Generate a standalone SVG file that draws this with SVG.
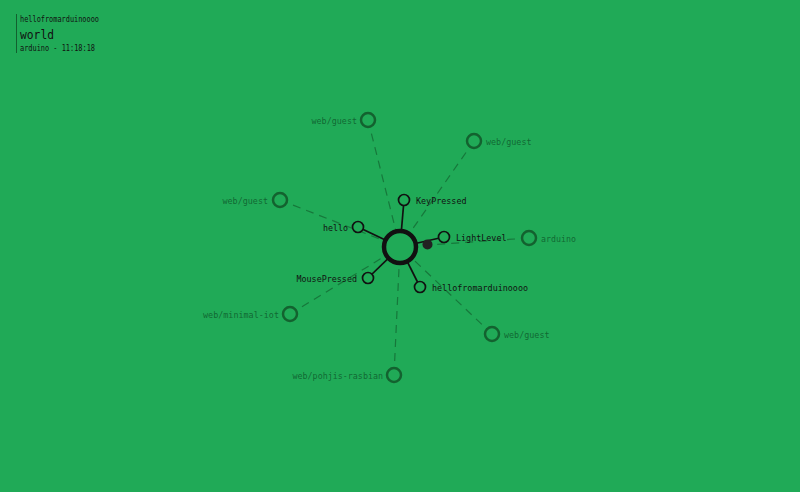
<svg xmlns="http://www.w3.org/2000/svg" width="800" height="492" viewBox="0 0 800 492">
<style>
text{font-family:"DejaVu Sans Mono","Liberation Mono",monospace}
.t{font-size:9.5px;fill:#111}
.c{font-size:9.5px;fill:#0f5a2c;fill-opacity:0.85}
.tn{fill:#20aa57;stroke:#111;stroke-width:1.7}
.cn{fill:#20aa57;stroke:#13622f;stroke-width:2.5}
.sl{stroke:#111;stroke-width:1.7}
.dl{stroke:#13622f;stroke-width:1.2;stroke-dasharray:8 6;stroke-opacity:0.7}
</style>
<rect width="800" height="492" fill="#20aa57"/>
<g id="header">
<line x1="16.5" y1="14" x2="16.5" y2="53" stroke="#12602f" stroke-width="1"/>
<text x="20" y="22" style="font-size:8px;fill:#111" textLength="79" lengthAdjust="spacingAndGlyphs">hellofromarduinoooo</text>
<text x="20" y="39" style="font-size:12.5px;fill:#111" textLength="34" lengthAdjust="spacingAndGlyphs">world</text>
<text x="20" y="51" style="font-size:8px;fill:#111" textLength="75" lengthAdjust="spacingAndGlyphs">arduino - 11:18:18</text>
</g>
<g id="connectors">
<line class="dl" x1="368" y1="120" x2="400" y2="247"/>
<line class="dl" x1="474" y1="141" x2="400" y2="247"/>
<line class="dl" x1="280" y1="200" x2="400" y2="247"/>
<line class="dl" x1="529" y1="238" x2="400" y2="247"/>
<line class="dl" x1="290" y1="314" x2="400" y2="247"/>
<line class="dl" x1="394" y1="375" x2="400" y2="247"/>
<line class="dl" x1="492" y1="334" x2="400" y2="247"/>
<line class="sl" x1="400" y1="247" x2="404" y2="200"/>
<line class="sl" x1="400" y1="247" x2="358" y2="227"/>
<line class="sl" x1="400" y1="247" x2="444" y2="237"/>
<line class="sl" x1="400" y1="247" x2="368" y2="278"/>
<line class="sl" x1="400" y1="247" x2="420" y2="287"/>
</g>
<g id="client-webguest-1"><circle class="cn" cx="368" cy="120" r="7"/><text class="c" x="357" y="124" text-anchor="end" textLength="45.5" lengthAdjust="spacingAndGlyphs">web/guest</text></g>
<g id="client-webguest-2"><circle class="cn" cx="474" cy="141" r="7"/><text class="c" x="486" y="145" textLength="45.5" lengthAdjust="spacingAndGlyphs">web/guest</text></g>
<g id="client-webguest-3"><circle class="cn" cx="280" cy="200" r="7"/><text class="c" x="268" y="204" text-anchor="end" textLength="45.5" lengthAdjust="spacingAndGlyphs">web/guest</text></g>
<g id="client-arduino"><circle class="cn" cx="529" cy="238" r="7"/><text class="c" x="541" y="242" textLength="35" lengthAdjust="spacingAndGlyphs">arduino</text></g>
<g id="client-minimal-iot"><circle class="cn" cx="290" cy="314" r="7"/><text class="c" x="279" y="318" text-anchor="end" textLength="76" lengthAdjust="spacingAndGlyphs">web/minimal-iot</text></g>
<g id="client-pohjis"><circle class="cn" cx="394" cy="375" r="7"/><text class="c" x="383" y="379" text-anchor="end" textLength="90.5" lengthAdjust="spacingAndGlyphs">web/pohjis-rasbian</text></g>
<g id="client-webguest-4"><circle class="cn" cx="492" cy="334" r="7"/><text class="c" x="504" y="338" textLength="45.5" lengthAdjust="spacingAndGlyphs">web/guest</text></g>
<g id="topic-keypressed"><circle class="tn" cx="404" cy="200" r="5.5"/><text class="t" x="416" y="204" textLength="50.5" lengthAdjust="spacingAndGlyphs">KeyPressed</text></g>
<g id="topic-hello"><circle class="tn" cx="358" cy="227" r="5.5"/><text class="t" x="348" y="231" text-anchor="end" textLength="25" lengthAdjust="spacingAndGlyphs">hello</text></g>
<g id="topic-lightlevel"><circle class="tn" cx="444" cy="237" r="5.5"/><text class="t" x="456" y="241" textLength="50.5" lengthAdjust="spacingAndGlyphs">LightLevel</text></g>
<g id="topic-mousepressed"><circle class="tn" cx="368" cy="278" r="5.5"/><text class="t" x="357" y="282" text-anchor="end" textLength="60.5" lengthAdjust="spacingAndGlyphs">MousePressed</text></g>
<g id="topic-hellofromarduino"><circle class="tn" cx="420" cy="287" r="5.5"/><text class="t" x="432" y="291" textLength="96" lengthAdjust="spacingAndGlyphs">hellofromarduinoooo</text></g>
<g id="center"><circle cx="400" cy="247" r="16" fill="#20aa57" stroke="#111" stroke-width="4.5"/></g>
<g id="message"><circle cx="427.5" cy="244.5" r="5" fill="#222"/></g>
</svg>
